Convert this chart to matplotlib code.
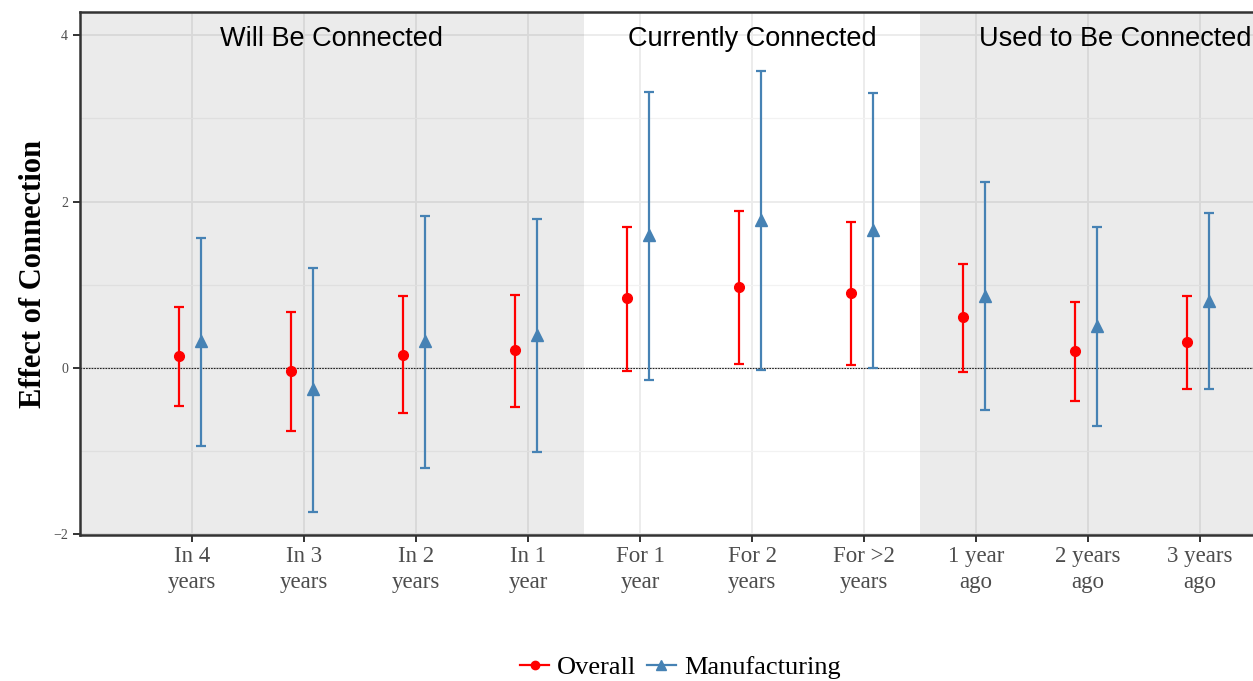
import numpy as np
import matplotlib.pyplot as plt
from matplotlib.lines import Line2D

# categories (x order) and section labels
categories = ['In 4\nyears', 'In 3\nyears', 'In 2\nyears', 'In 1\nyear',
              'For 1\nyear', 'For 2\nyears', 'For >2\nyears',
              '1 year\nago', '2 years\nago', '3 years\nago']
sections = ['Will Be Connected', 'Currently Connected', 'Used to Be Connected']

# estimates with confidence bounds
overall_est = [0.14, -0.04, 0.155, 0.21, 0.84, 0.97, 0.90, 0.61, 0.20, 0.31]
overall_lo = [-0.46, -0.76, -0.54, -0.47, -0.04, 0.05, 0.03, -0.05, -0.40, -0.25]
overall_hi = [0.73, 0.67, 0.86, 0.88, 1.70, 1.89, 1.76, 1.25, 0.79, 0.86]

mfg_est = [0.32, -0.25, 0.32, 0.40, 1.60, 1.78, 1.66, 0.87, 0.50, 0.81]
mfg_lo = [-0.94, -1.73, -1.21, -1.01, -0.14, -0.03, 0.00, -0.51, -0.70, -0.25]
mfg_hi = [1.56, 1.20, 1.83, 1.79, 3.32, 3.57, 3.30, 2.23, 1.69, 1.86]

RED = '#FF0000'
BLUE = '#4682B4'
SERIF = ['Liberation Serif', 'DejaVu Serif']
SANS = ['Liberation Sans', 'DejaVu Sans']

fig = plt.figure(figsize=(12.53, 6.81), dpi=100)
ax = fig.add_axes([80 / 1253, 1 - 535 / 681, 1176 / 1253, 523 / 681])

x = np.arange(1, len(categories) + 1)

# shaded sections, drawn over the grid so the grid looks darker inside
ax.axvspan(0, 4.5, color='black', alpha=0.08, lw=0, zorder=0.7)
ax.axvspan(7.5, 10.5, color='black', alpha=0.08, lw=0, zorder=0.7)

ax.axhline(0, color='#222222', lw=0.8, ls=(0, (1.5, 1)), zorder=0.8)

def draw(xpos, est, lo, hi, color, marker, ms):
    est = np.array(est)
    err = np.vstack([est - np.array(lo), np.array(hi) - est])
    ax.errorbar(xpos, est, yerr=err, fmt=marker, color=color, ms=ms,
                elinewidth=1.6, capsize=3.5, capthick=1.6, zorder=3)

draw(x - 0.12, overall_est, overall_lo, overall_hi, RED, 'o', 7)
draw(x + 0.08, mfg_est, mfg_lo, mfg_hi, BLUE, '^', 8.5)

ax.set_xlim(0, 10.5)
ax.set_ylim(-2.01, 4.28)
ax.set_xticks(x)
ax.set_xticklabels(categories, family=SERIF, fontsize=16.5, color='#4d4d4d',
                   linespacing=1.3)
ax.set_yticks([-2, 0, 2, 4])
ax.set_yticklabels(['\u22122', '0', '2', '4'], family=SERIF, fontsize=10,
                   color='#4d4d4d')
ax.set_yticks([-1, 1, 3], minor=True)
ax.tick_params(axis='both', which='major', length=5, width=1.4, color='#333333')
ax.tick_params(axis='y', which='minor', length=0)
ax.tick_params(axis='x', pad=3)

ax.set_axisbelow(True)
ax.grid(True, which='major', color='#EBEBEB', lw=1.3)
ax.grid(True, which='minor', axis='y', color='#F2F2F2', lw=0.9)

for side in ['left', 'top', 'bottom', 'right']:
    ax.spines[side].set_color('#333333')
    ax.spines[side].set_linewidth(1.8)

ax.set_ylabel('Effect of Connection', family=SERIF, fontsize=22,
              fontweight='bold', labelpad=4)

ax.text(2.25, 3.96, sections[0], ha='center', va='center', fontsize=19.5,
        family=SANS)
ax.text(6.0, 3.96, sections[1], ha='center', va='center', fontsize=19.5,
        family=SANS)
ax.text(8.03, 3.96, sections[2], ha='left', va='center', fontsize=19.5,
        family=SANS, clip_on=False)

handles = [Line2D([], [], color=RED, marker='o', ms=6, lw=1.6),
           Line2D([], [], color=BLUE, marker='^', ms=7, lw=1.6)]
fig.legend(handles, ['Overall', 'Manufacturing'], loc='center',
           bbox_to_anchor=(0.543, 0.02), ncol=2, frameon=False,
           prop={'family': SERIF, 'size': 19}, handlelength=1.1,
           handletextpad=0.3, columnspacing=0.4, borderpad=0.1)

fig.savefig('out.png', dpi=100)
